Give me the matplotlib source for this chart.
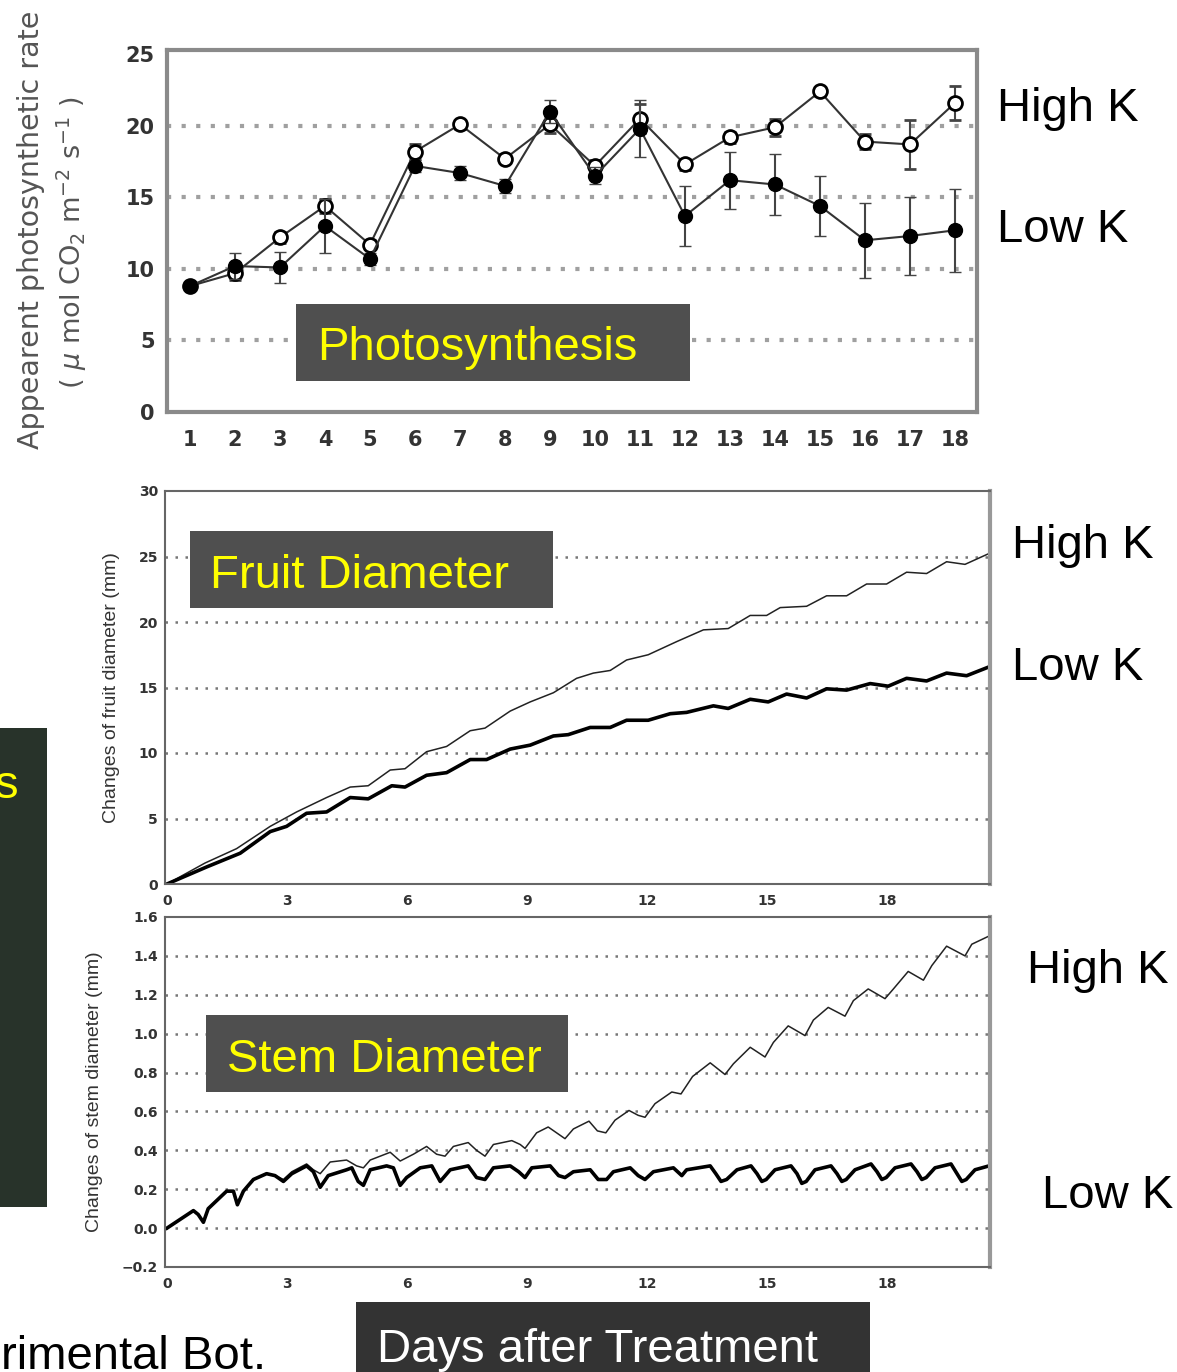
import matplotlib
matplotlib.use("Agg")
import matplotlib.pyplot as plt
from matplotlib.patches import Rectangle

W, H = 1177, 1372

# photosynthesis (days 1-18)
ps_days = list(range(1, 19))
ps_high = [8.8, 9.7, 12.2, 14.4, 11.7, 18.2, 20.1, 17.7, 20.1, 17.2, 20.5, 17.3, 19.2, 19.9, 22.4, 18.9, 18.7, 21.6]
ps_high_err = [0.3, 0.5, 0.4, 0.5, 0.3, 0.5, 0.3, 0.3, 0.6, 0.4, 1.0, 0.4, 0.4, 0.6, 0.3, 0.5, 1.7, 1.2]
ps_low = [8.8, 10.2, 10.1, 13.0, 10.7, 17.2, 16.7, 15.8, 21.0, 16.5, 19.8, 13.7, 16.2, 15.9, 14.4, 12.0, 12.3, 12.7]
ps_low_err = [0.3, 0.9, 1.1, 1.9, 0.4, 0.4, 0.5, 0.5, 0.8, 0.6, 2.0, 2.1, 2.0, 2.1, 2.1, 2.6, 2.7, 2.9]

# fruit diameter change (mm)
fruit_high_d = [0, 0.95, 1.74, 2.58, 3.24, 3.99, 4.58, 5.03, 5.58, 5.95, 6.49, 6.99, 7.58, 7.95, 8.58,
                9.08, 9.66, 10.24, 10.66, 11.08, 11.49, 12.03, 12.74, 13.41, 14.03, 14.58, 14.99, 15.33,
                15.99, 16.49, 16.99, 17.49, 17.99, 18.49, 18.99, 19.49, 19.95, 20.53]
fruit_high = [0, 1.6, 2.7, 4.4, 5.5, 6.6, 7.4, 7.5, 8.7, 8.8, 10.1, 10.5, 11.7, 11.9, 13.2,
              13.9, 14.6, 15.7, 16.1, 16.3, 17.1, 17.5, 18.5, 19.4, 19.5, 20.5, 20.5, 21.1,
              21.2, 22.0, 22.0, 22.9, 22.9, 23.8, 23.7, 24.6, 24.4, 25.2]
fruit_low_d = [0, 0.99, 1.83, 2.58, 2.99, 3.49, 3.99, 4.58, 5.03, 5.62, 5.95, 6.49, 6.99, 7.58, 7.99,
               8.58, 9.08, 9.66, 10.03, 10.58, 11.08, 11.49, 12.03, 12.58, 12.99, 13.66, 14.03, 14.58,
               15.03, 15.49, 15.99, 16.49, 16.99, 17.58, 18.03, 18.49, 18.99, 19.49, 19.99, 20.53]
fruit_low = [0, 1.3, 2.35, 4.0, 4.4, 5.4, 5.5, 6.6, 6.5, 7.5, 7.4, 8.3, 8.5, 9.5, 9.5,
             10.3, 10.6, 11.3, 11.4, 11.95, 11.95, 12.5, 12.5, 13.0, 13.1, 13.6, 13.4, 14.1,
             13.9, 14.5, 14.2, 14.9, 14.8, 15.3, 15.1, 15.7, 15.5, 16.1, 15.9, 16.55]

# stem diameter change (mm)
stem_high_d = [0, 0.66, 0.78, 0.91, 1.03, 1.49, 1.66, 1.76, 1.91, 2.16, 2.49, 2.70, 2.91, 3.12,
               3.49, 3.66, 3.83, 4.08, 4.49, 4.74, 4.91, 5.08, 5.58, 5.83, 6.16, 6.49, 6.74, 6.95,
               7.16, 7.53, 7.74, 7.95, 8.16, 8.62, 8.83, 8.95, 9.24, 9.53, 9.74, 9.95, 10.16, 10.55,
               10.76, 10.97, 11.2, 11.55, 11.78, 11.95, 12.2, 12.62, 12.85, 13.14, 13.58, 13.95,
               14.16, 14.58, 14.95, 15.16, 15.53, 15.95, 16.16, 16.53, 16.95, 17.16, 17.53, 17.95,
               18.16, 18.53, 18.91, 19.12, 19.49, 19.95, 20.12, 20.53]
stem_high = [0, 0.09, 0.07, 0.03, 0.10, 0.19, 0.19, 0.13, 0.19, 0.25, 0.28, 0.27, 0.25, 0.29,
             0.33, 0.30, 0.28, 0.34, 0.35, 0.32, 0.31, 0.35, 0.39, 0.345, 0.38, 0.42, 0.38, 0.37,
             0.42, 0.44, 0.40, 0.37, 0.43, 0.45, 0.43, 0.41, 0.49, 0.52, 0.49, 0.46, 0.51, 0.55,
             0.50, 0.49, 0.555, 0.605, 0.58, 0.57, 0.64, 0.70, 0.69, 0.78, 0.85, 0.79,
             0.845, 0.93, 0.88, 0.955, 1.04, 0.99, 1.07, 1.135, 1.09, 1.17, 1.23, 1.18,
             1.23, 1.32, 1.275, 1.35, 1.45, 1.40, 1.46, 1.50]
stem_low_d = [0, 0.66, 0.78, 0.91, 1.03, 1.49, 1.66, 1.76, 1.91, 2.16, 2.49, 2.70, 2.91, 3.12,
              3.49, 3.66, 3.83, 4.03, 4.49, 4.62, 4.78, 4.91, 5.08, 5.49, 5.66, 5.83, 5.99, 6.33,
              6.62, 6.83, 7.08, 7.53, 7.74, 7.95, 8.16, 8.58, 8.79, 8.95, 9.12, 9.58, 9.79, 9.95,
              10.16, 10.58, 10.78, 10.99, 11.16, 11.58, 11.78, 11.95, 12.16, 12.66, 12.87, 12.99,
              13.58, 13.72, 13.85, 13.99, 14.25, 14.6, 14.75, 14.87, 14.98, 15.2, 15.6, 15.75,
              15.87, 15.98, 16.2, 16.6, 16.75, 16.87, 16.98, 17.2, 17.6, 17.75, 17.87, 17.98,
              18.2, 18.6, 18.75, 18.87, 18.98, 19.2, 19.6, 19.75, 19.87, 19.98, 20.2, 20.55]
stem_low = [0, 0.09, 0.07, 0.03, 0.10, 0.19, 0.19, 0.12, 0.19, 0.25, 0.28, 0.27, 0.24, 0.28,
            0.32, 0.29, 0.21, 0.27, 0.30, 0.31, 0.24, 0.22, 0.30, 0.32, 0.31, 0.22, 0.26, 0.31,
            0.32, 0.24, 0.30, 0.32, 0.26, 0.25, 0.31, 0.32, 0.29, 0.26, 0.31, 0.32, 0.27, 0.26,
            0.29, 0.30, 0.25, 0.25, 0.29, 0.31, 0.27, 0.25, 0.29, 0.31, 0.27, 0.30,
            0.32, 0.28, 0.24, 0.25, 0.30, 0.32, 0.28, 0.24, 0.25, 0.30, 0.32, 0.28,
            0.23, 0.24, 0.30, 0.32, 0.28, 0.24, 0.25, 0.30, 0.33, 0.29, 0.25, 0.26,
            0.31, 0.33, 0.29, 0.25, 0.26, 0.31, 0.33, 0.28, 0.24, 0.25, 0.30, 0.32]


def fpos(x, y):
    return x / W, 1 - y / H


def axrect(x0, y0, x1, y1):
    return [x0 / W, 1 - y1 / H, (x1 - x0) / W, (y1 - y0) / H]


def box(fig, x0, y0, x1, y1, color):
    fig.add_artist(Rectangle((x0 / W, 1 - y1 / H), (x1 - x0) / W, (y1 - y0) / H,
                             transform=fig.transFigure, facecolor=color, edgecolor="none"))


def label(fig, x, y, s, color="black", size=34):
    fx, fy = fpos(x, y)
    fig.text(fx, fy, s, color=color, fontsize=size, family="Liberation Sans",
             ha="left", va="baseline")


fig = plt.figure(figsize=(W / 100, H / 100), dpi=100)

# --- photosynthesis panel ---
ax1 = fig.add_axes(axrect(167, 50, 977, 412))
for yv in [5, 10, 15, 20]:
    ax1.axhline(yv, color="#a0a0a0", linestyle=(0, (1, 2.5)), linewidth=3, zorder=0)
ax1.errorbar(ps_days, ps_high, yerr=ps_high_err, color="#333333", linewidth=1.5,
             marker="o", markersize=10, markerfacecolor="white", markeredgecolor="black",
             markeredgewidth=2, capsize=4, elinewidth=1.5, ecolor="#444444", zorder=3)
ax1.errorbar(ps_days, ps_low, yerr=ps_low_err, color="#333333", linewidth=1.5,
             marker="o", markersize=10, markerfacecolor="black", markeredgecolor="black",
             capsize=4, elinewidth=1.5, ecolor="#444444", zorder=4)
ax1.set_xlim(0.49, 18.49)
ax1.set_ylim(0, 25.3)
ax1.set_xticks(ps_days)
ax1.set_yticks([0, 5, 10, 15, 20, 25])
ax1.tick_params(length=0, labelsize=15, pad=9, labelcolor="#333333")
ax1.tick_params(axis="x", pad=13)
for t in ax1.get_xticklabels() + ax1.get_yticklabels():
    t.set_fontweight("bold")
for sp in ax1.spines.values():
    sp.set_color("#8a8a8a")
    sp.set_linewidth(3)

fx, fy = fpos(31, 230)
fig.text(fx, fy, "Appearent photosynthetic rate", rotation=90, ha="center", va="center",
         fontsize=20.5, color="#555555", fontweight="medium")
fx, fy = fpos(72, 243)
fig.text(fx, fy, r"( $\mu$ mol CO$_2$ m$^{-2}$ s$^{-1}$ )", rotation=90, ha="center",
         va="center", fontsize=19.5, color="#555555")

# --- fruit diameter panel ---
ax2 = fig.add_axes(axrect(165, 491, 990, 884))
for yv in [5, 10, 15, 20, 25]:
    ax2.axhline(yv, color="#777777", linestyle=(0, (1, 3)), linewidth=1.8, zorder=0)
ax2.plot(fruit_high_d, fruit_high, color="#222222", linewidth=1.1)
ax2.plot(fruit_low_d, fruit_low, color="black", linewidth=2.6)
ax2.set_xlim(-0.05, 20.575)
ax2.set_ylim(0, 30)
ax2.set_xticks([0, 3, 6, 9, 12, 15, 18])
ax2.set_yticks([0, 5, 10, 15, 20, 25, 30])

# --- stem diameter panel ---
ax3 = fig.add_axes(axrect(165, 917, 990, 1267))
for yv in [0.0, 0.2, 0.4, 0.6, 0.8, 1.0, 1.2, 1.4]:
    ax3.axhline(yv, color="#777777", linestyle=(0, (1, 3)), linewidth=1.8, zorder=0)
ax3.plot(stem_high_d, stem_high, color="#222222", linewidth=1.1)
ax3.plot(stem_low_d, stem_low, color="black", linewidth=2.6)
ax3.set_xlim(-0.05, 20.575)
ax3.set_ylim(-0.2, 1.6)
ax3.set_xticks([0, 3, 6, 9, 12, 15, 18])
ax3.set_yticks([-0.2, 0.0, 0.2, 0.4, 0.6, 0.8, 1.0, 1.2, 1.4, 1.6])
ax3.set_yticklabels(["\u22120.2", "0.0", "0.2", "0.4", "0.6", "0.8", "1.0", "1.2", "1.4", "1.6"])

for ax in (ax2, ax3):
    ax.tick_params(length=0, labelsize=10, pad=5, labelcolor="#333333")
    ax.tick_params(axis="x", pad=7)
    for t in ax.get_xticklabels() + ax.get_yticklabels():
        t.set_fontweight("bold")
    for sp in ax.spines.values():
        sp.set_color("#666666")
        sp.set_linewidth(1.5)
    ax.spines["right"].set_linewidth(3)
    ax.spines["right"].set_color("#999999")

fx, fy = fpos(112, 688)
fig.text(fx, fy, "Changes of fruit diameter (mm)", rotation=90, ha="center", va="center",
         fontsize=14, family="Liberation Sans", color="#333333")
fx, fy = fpos(95, 1092)
fig.text(fx, fy, "Changes of stem diameter (mm)", rotation=90, ha="center", va="center",
         fontsize=14, family="Liberation Sans", color="#333333")

# --- overlay boxes and labels ---
box(fig, 296, 304, 690, 381, "#4f4f4f")
label(fig, 317, 360, "Photosynthesis", color="#ffff00")
box(fig, 190, 531, 553, 608, "#4f4f4f")
label(fig, 210, 588, "Fruit Diameter", color="#ffff00")
box(fig, 206, 1015, 568, 1092, "#4f4f4f")
label(fig, 227, 1072, "Stem Diameter", color="#ffff00")
box(fig, 356, 1302, 870, 1380, "#333333")
label(fig, 377, 1362, "Days after Treatment", color="white")
box(fig, 0, 728, 47, 1207, "#28332a")
label(fig, -5, 798, "s", color="#ffff00")
label(fig, 1, 1369, "rimental Bot.")

label(fig, 997, 121, "High K")
label(fig, 997, 242, "Low K")
label(fig, 1012, 558, "High K")
label(fig, 1012, 680, "Low K")
label(fig, 1027, 983, "High K")
label(fig, 1042, 1208, "Low K")

fig.savefig("out.png", dpi=100)
